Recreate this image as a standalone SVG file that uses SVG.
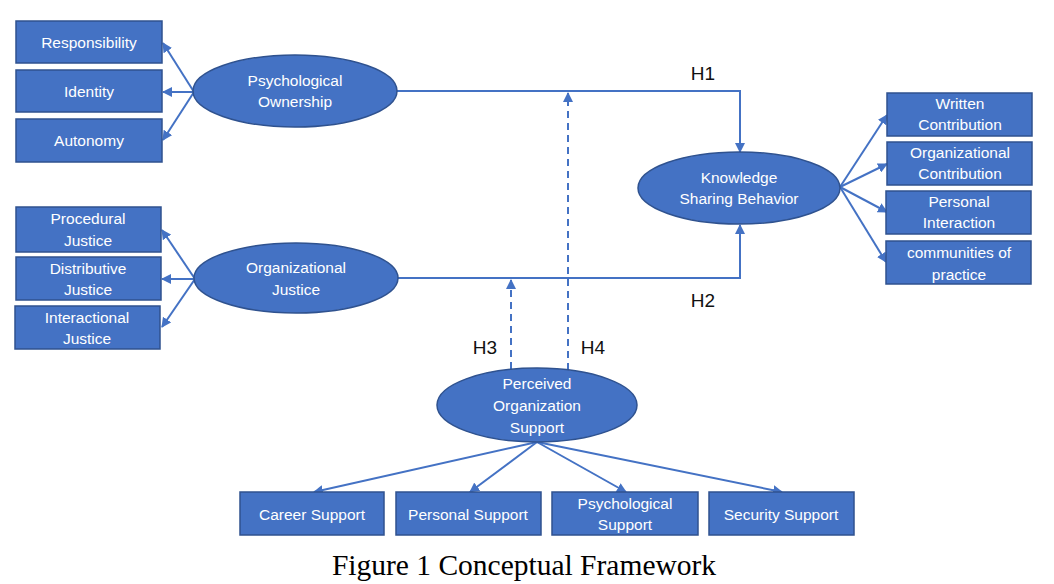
<svg xmlns="http://www.w3.org/2000/svg" width="1054" height="584" viewBox="0 0 1054 584">
<defs>
<style>
.box{fill:#4472C4;stroke:#2F528F;stroke-width:1.5}
.ell{fill:#4472C4;stroke:#2F528F;stroke-width:1.5}
.t{font-family:"Liberation Sans",Arial,sans-serif;font-size:15.5px;fill:#FFFFFF;text-anchor:middle}
.lbl{font-family:"Liberation Sans",Arial,sans-serif;font-size:19px;fill:#111111;text-anchor:middle}
.ln{fill:none;stroke:#4472C4;stroke-width:2}
.dash{fill:none;stroke:#4472C4;stroke-width:2;stroke-dasharray:7,5}
.cap{font-family:"Liberation Serif","Times New Roman",serif;font-size:29.5px;fill:#000000;text-anchor:middle}
</style>
<marker id="ah" viewBox="0 0 10 10" refX="9" refY="5" markerWidth="5" markerHeight="5" orient="auto" markerUnits="strokeWidth">
<path d="M0,0 L10,5 L0,10 z" fill="#4472C4"/>
</marker>
</defs>
<rect width="1054" height="584" fill="#FFFFFF"/>
<g id="connectors">
<line class="ln" x1="194" y1="92" x2="163" y2="43" marker-end="url(#ah)"/>
<line class="ln" x1="194" y1="92" x2="163" y2="92" marker-end="url(#ah)"/>
<line class="ln" x1="194" y1="92" x2="163" y2="140" marker-end="url(#ah)"/>
<line class="ln" x1="195" y1="279" x2="162" y2="230" marker-end="url(#ah)"/>
<line class="ln" x1="195" y1="279" x2="162" y2="279" marker-end="url(#ah)"/>
<line class="ln" x1="195" y1="279" x2="162" y2="327" marker-end="url(#ah)"/>
<line class="ln" x1="840" y1="187" x2="887" y2="115" marker-end="url(#ah)"/>
<line class="ln" x1="840" y1="187" x2="887" y2="164" marker-end="url(#ah)"/>
<line class="ln" x1="840" y1="187" x2="887" y2="212" marker-end="url(#ah)"/>
<line class="ln" x1="840" y1="187" x2="886" y2="262" marker-end="url(#ah)"/>
<path class="ln" d="M397,91 H740 V152" marker-end="url(#ah)"/>
<path class="ln" d="M398,278 H740 V225" marker-end="url(#ah)"/>
<path class="dash" d="M568,370 V93" marker-end="url(#ah)"/>
<path class="dash" d="M511,369 V280" marker-end="url(#ah)"/>
<line class="ln" x1="537" y1="442" x2="314" y2="492" marker-end="url(#ah)"/>
<line class="ln" x1="537" y1="442" x2="470" y2="492" marker-end="url(#ah)"/>
<line class="ln" x1="537" y1="442" x2="626" y2="492" marker-end="url(#ah)"/>
<line class="ln" x1="537" y1="442" x2="782" y2="492" marker-end="url(#ah)"/>
<text class="lbl" x="703" y="80">H1</text>
<text class="lbl" x="703" y="307">H2</text>
<text class="lbl" x="485" y="354">H3</text>
<text class="lbl" x="593" y="354">H4</text>
</g>
<g id="responsibility"><rect class="box" x="16" y="21" width="146" height="42"/><text class="t" x="89" y="48">Responsibility</text></g>
<g id="identity"><rect class="box" x="16" y="70" width="146" height="42"/><text class="t" x="89" y="97">Identity</text></g>
<g id="autonomy"><rect class="box" x="16" y="119" width="146" height="43"/><text class="t" x="89" y="146">Autonomy</text></g>
<g id="psychological-ownership"><ellipse class="ell" cx="295" cy="91" rx="102" ry="36"/><text class="t" x="295" y="86">Psychological</text><text class="t" x="295" y="107">Ownership</text></g>
<g id="procedural-justice"><rect class="box" x="16" y="207" width="145" height="45"/><text class="t" x="88" y="224">Procedural</text><text class="t" x="88" y="246">Justice</text></g>
<g id="distributive-justice"><rect class="box" x="16" y="257" width="145" height="43"/><text class="t" x="88" y="274">Distributive</text><text class="t" x="88" y="295">Justice</text></g>
<g id="interactional-justice"><rect class="box" x="15" y="306" width="145" height="43"/><text class="t" x="87" y="323">Interactional</text><text class="t" x="87" y="344">Justice</text></g>
<g id="organizational-justice"><ellipse class="ell" cx="296" cy="278" rx="102" ry="35"/><text class="t" x="296" y="273">Organizational</text><text class="t" x="296" y="295">Justice</text></g>
<g id="knowledge-sharing-behavior"><ellipse class="ell" cx="739" cy="188" rx="101" ry="36"/><text class="t" x="739" y="183">Knowledge</text><text class="t" x="739" y="204">Sharing Behavior</text></g>
<g id="written-contribution"><rect class="box" x="887" y="93" width="145" height="43"/><text class="t" x="960" y="109">Written</text><text class="t" x="960" y="130">Contribution</text></g>
<g id="organizational-contribution"><rect class="box" x="887" y="142" width="145" height="43"/><text class="t" x="960" y="158">Organizational</text><text class="t" x="960" y="179">Contribution</text></g>
<g id="personal-interaction"><rect class="box" x="886" y="191" width="145" height="43"/><text class="t" x="959" y="207">Personal</text><text class="t" x="959" y="228">Interaction</text></g>
<g id="communities-of-practice"><rect class="box" x="886" y="241" width="145" height="43"/><text class="t" x="959" y="258">communities of</text><text class="t" x="959" y="280">practice</text></g>
<g id="perceived-organization-support"><ellipse class="ell" cx="537" cy="405" rx="100" ry="37"/><text class="t" x="537" y="389">Perceived</text><text class="t" x="537" y="411">Organization</text><text class="t" x="537" y="433">Support</text></g>
<g id="career-support"><rect class="box" x="240" y="492" width="144" height="43"/><text class="t" x="312" y="520">Career Support</text></g>
<g id="personal-support"><rect class="box" x="396" y="492" width="145" height="43"/><text class="t" x="468" y="520">Personal Support</text></g>
<g id="psychological-support"><rect class="box" x="552" y="492" width="146" height="43"/><text class="t" x="625" y="509">Psychological</text><text class="t" x="625" y="530">Support</text></g>
<g id="security-support"><rect class="box" x="709" y="492" width="145" height="43"/><text class="t" x="781" y="520">Security Support</text></g>
<text class="cap" x="524" y="575">Figure 1 Conceptual Framework</text>
</svg>
